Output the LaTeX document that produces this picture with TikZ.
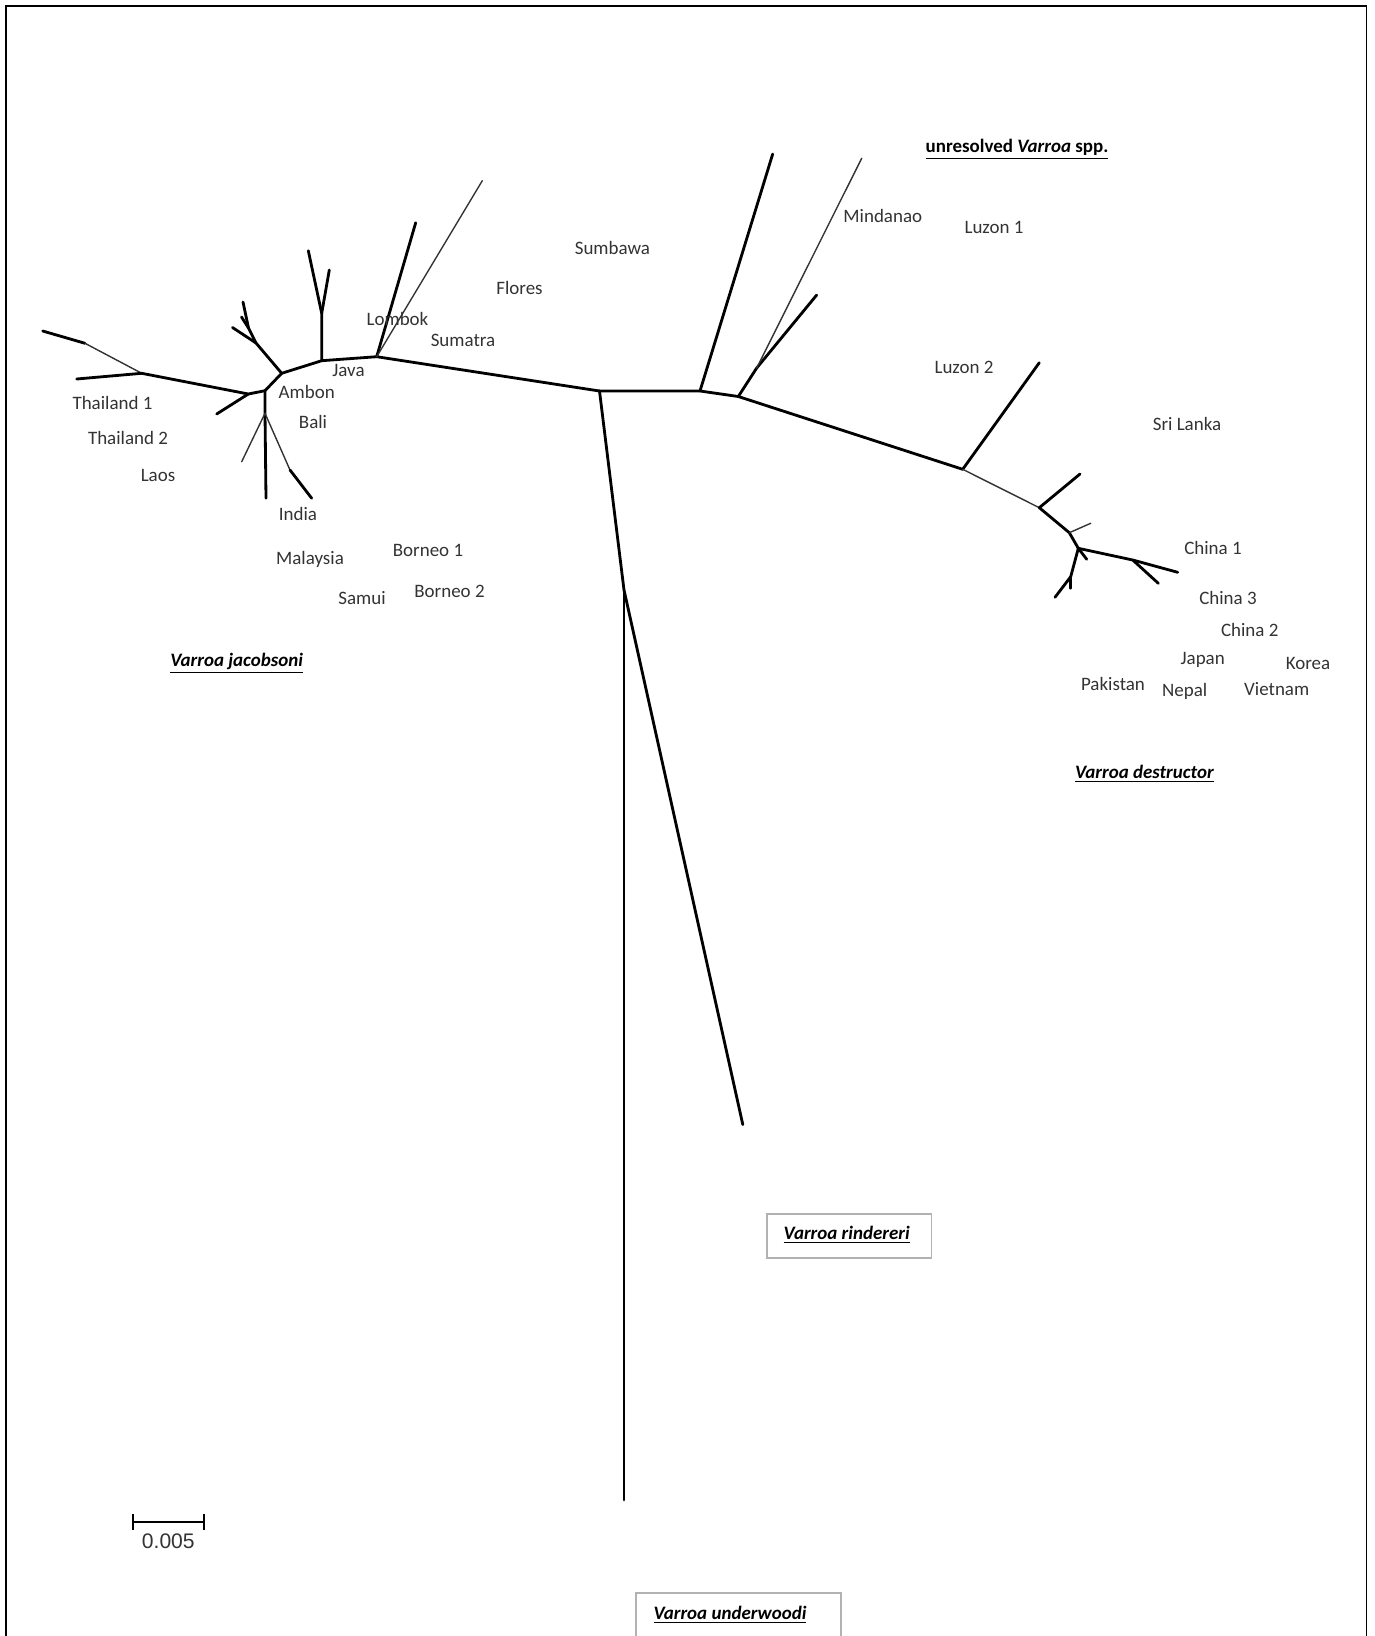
\documentclass[tikz,border=0pt]{standalone}
\usepackage{fontspec}
\setmainfont{Carlito}
\newfontfamily\scalefont{Liberation Sans}
\usetikzlibrary{arrows.meta}

\begin{document}
\begin{tikzpicture}[x=0.02cm, y=-0.02cm,
	branch/.style={line width=1.6pt, line cap=round, line join=round},
	thin branch/.style={line width=0.8pt, black!80, line cap=round},
	place/.style={inner sep=0pt, font=\fontsize{10.8}{13}\selectfont, text=black!80},
	clade/.style={inner sep=0pt, font=\fontsize{10.8}{13}\selectfont\bfseries\itshape},
	clade box/.style={draw=black!30, line width=0.8pt, inner sep=0pt},
]
\useasboundingbox (0,0) rectangle (1375,1636);
\draw [line width=1.1pt] (6,1660) -- (6,6) -- (1366.5,6) -- (1366.5,1660);
%
% tree vertices
\coordinate (root) at (599.5,391);
\coordinate (thA) at (42.7,331);
\coordinate (thB) at (85,343.3);
\coordinate (thN) at (141.7,373.3);
\coordinate (thC) at (76.7,379);
\coordinate (amL) at (248.3,394);
\coordinate (laT) at (216.7,414);
\coordinate (amN) at (265,390.7);
\coordinate (blN) at (265,413.3);
\coordinate (blA) at (241.7,461.7);
\coordinate (blB) at (266,498.3);
\coordinate (blC) at (290,470);
\coordinate (blD) at (311.7,498.3);
\coordinate (jvL) at (281.7,373.3);
\coordinate (jvM) at (256,343);
\coordinate (jvA) at (232.5,327.5);
\coordinate (jvF) at (248.5,328);
\coordinate (jvB) at (243,302);
\coordinate (jvC) at (241.5,317);
\coordinate (jvN) at (321.7,360.7);
\coordinate (jvU) at (321.7,313.3);
\coordinate (jvD) at (308.3,250.7);
\coordinate (jvE) at (329.3,270);
\coordinate (lbN) at (376.7,356.7);
\coordinate (lbA) at (415.7,222.7);
\coordinate (lbB) at (482.3,180.7);
\coordinate (uA) at (700,391);
\coordinate (uAt) at (772.7,154);
\coordinate (uB) at (738.3,396.5);
\coordinate (uC) at (756.7,368);
\coordinate (uCa) at (861.7,158.3);
\coordinate (uCb) at (816.7,295);
\coordinate (dsA) at (962.7,469.3);
\coordinate (dsAt) at (1039.3,362.7);
\coordinate (dsB) at (1039.3,507.7);
\coordinate (dsBt) at (1080,474);
\coordinate (dsC) at (1069.3,532.7);
\coordinate (dsCt) at (1090.7,523.3);
\coordinate (dsD) at (1078.3,548.3);
\coordinate (dsDt) at (1086.7,559.3);
\coordinate (dsE) at (1132.7,560);
\coordinate (dsEa) at (1177.7,572.3);
\coordinate (dsEb) at (1158.3,583.3);
\coordinate (dsF) at (1070.7,576.7);
\coordinate (dsFa) at (1055,597.3);
\coordinate (dsFb) at (1070.7,588.3);
\coordinate (rin) at (624,590);
\coordinate (rinT) at (742.8,1124.6);
\coordinate (undT) at (624,1500);
%
% Varroa jacobsoni
\draw [branch] (thA) -- (thB);
\draw [thin branch] (thB) -- (thN);
\draw [branch] (thC) -- (thN) -- (amL) -- (amN) -- (jvL) -- (jvN) -- (lbN) -- (root);
\draw [branch] (amL) -- (laT);
\draw [branch] (amN) -- (blN) -- (blB);
\draw [thin branch] (blN) -- (blA);
\draw [thin branch] (blN) -- (blC);
\draw [branch] (blC) -- (blD);
\draw [branch] (jvL) -- (jvM) -- (jvA);
\draw [branch] (jvM) -- (jvF) -- (jvB);
\draw [branch] (jvF) -- (jvC);
\draw [branch] (jvN) -- (jvU) -- (jvD);
\draw [branch] (jvU) -- (jvE);
\draw [branch] (lbN) -- (lbA);
\draw [thin branch] (lbN) -- (lbB);
%
% unresolved and Varroa destructor
\draw [branch] (root) -- (uA) -- (uB) -- (dsA);
\draw [branch] (uA) -- (uAt);
\draw [branch] (uB) -- (uC) -- (uCb);
\draw [thin branch] (uC) -- (uCa);
\draw [branch] (dsA) -- (dsAt);
\draw [thin branch] (dsA) -- (dsB);
\draw [branch] (dsB) -- (dsBt);
\draw [branch] (dsB) -- (dsC) -- (dsD);
\draw [thin branch] (dsC) -- (dsCt);
\draw [branch] (dsD) -- (dsE) -- (dsEa);
\draw [branch] (dsE) -- (dsEb);
\draw [branch] (dsD) -- (dsDt);
\draw [branch] (dsD) -- (dsF) -- (dsFa);
\draw [branch] (dsF) -- (dsFb);
%
% Varroa rindereri and Varroa underwoodi
\draw [branch] (root) -- (rin) -- (rinT);
\draw [branch] (rin) -- (undT);
%
% places
\node [place] (Thai1) at (112.5,403) {Thailand 1};
\node [place] (Thai2) at (128,438.3) {Thailand 2};
\node [place] (Laos) at (158,475) {Laos};
\node [place] (Ambon) at (306.7,391.7) {Ambon};
\node [place] (Bali) at (313,422.3) {Bali};
\node [place] (Java) at (348.5,370) {Java};
\node [place] (Lombok) at (397.5,319) {Lombok};
\node [place] (Sumatra) at (463,340.7) {Sumatra};
\node [place] (Flores) at (519.5,288) {Flores};
\node [place] (Sumbawa) at (612.4,248.3) {Sumbawa};
\node [place] (India) at (298,514) {India};
\node [place] (Malaysia) at (310,559.3) {Malaysia};
\node [place] (Borneo1) at (428,550.3) {Borneo 1};
\node [place] (Samui) at (362,598) {Samui};
\node [place] (Borneo2) at (449.5,591.7) {Borneo 2};
\node [place] (Mindanao) at (882.8,215.7) {Mindanao};
\node [place] (Luzon1) at (994,227.3) {Luzon 1};
\node [place] (Luzon2) at (964,367.7) {Luzon 2};
\node [place] (SriLanka) at (1187,424) {Sri Lanka};
\node [place] (China1) at (1213,548.3) {China 1};
\node [place] (China3) at (1228,598.3) {China 3};
\node [place] (China2) at (1249.7,630) {China 2};
\node [place] (Japan) at (1202.7,660) {Japan};
\node [place] (Korea) at (1308,663.3) {Korea};
\node [place] (Pakistan) at (1113,684.3) {Pakistan};
\node [place] (Nepal) at (1184.7,691.7) {Nepal};
\node [place] (Vietnam) at (1276.7,689.3) {Vietnam};
%
% clades
\node [clade] (jacobsoni) at (236.7,663.3) {\underline{Varroa jacobsoni}};
\node [clade, font=\fontsize{10.8}{13}\selectfont\bfseries] (unresolved) at (1017,149) {\underline{unresolved \textit{Varroa} spp.}};
\node [clade] (destructor) at (1144.4,774) {\underline{Varroa destructor}};
\node [clade box, minimum width=3.3cm, minimum height=0.88cm] (rinBox) at (849.3,1235.8) {};
\node [clade] (rindereri) at (846.7,1235) {\underline{Varroa rindereri}};
\node [clade box, minimum width=4.1cm, minimum height=1.6cm] (undBox) at (738.5,1633) {};
\node [clade] (underwoodi) at (730,1615) {\underline{Varroa underwoodi}};
%
% scale
\coordinate (scL) at (132.3,1521.7);
\coordinate (scR) at (205,1521.7);
\draw [line width=1.1pt, {Bar[width=0.32cm]}-{Bar[width=0.32cm]}] (scL) -- (scR);
\node [inner sep=0pt, font=\scalefont\fontsize{12}{14}\selectfont, text=black!80] (scale) at (168.3,1541.7) {0.005};
\end{tikzpicture}
\end{document}
